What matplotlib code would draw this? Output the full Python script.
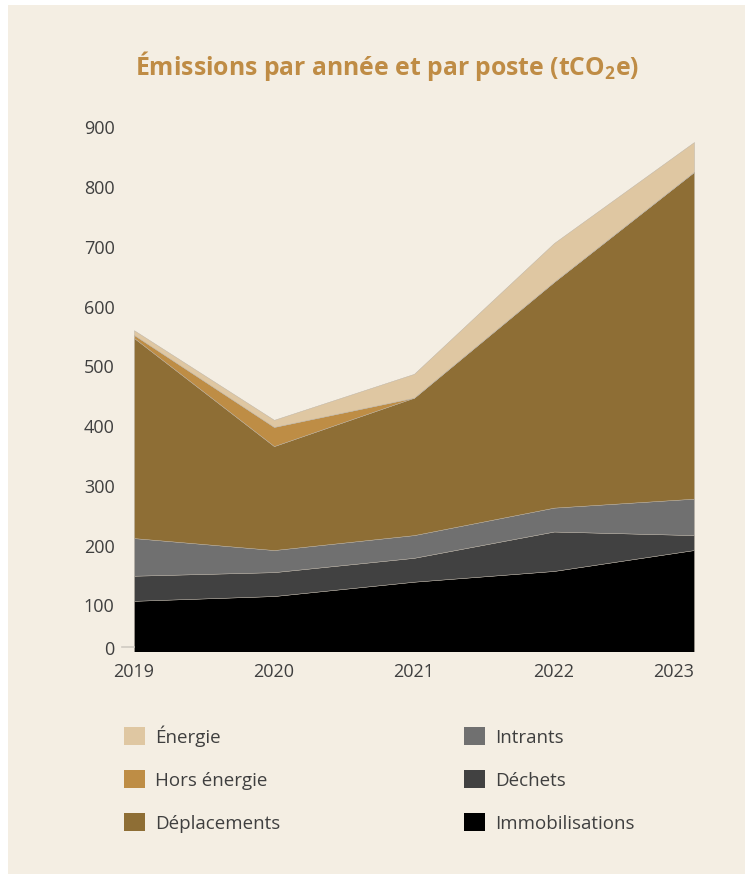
import matplotlib.pyplot as plt
from matplotlib.patches import Patch

# données (tCO2e)
years = [2019, 2020, 2021, 2022, 2023]
immobilisations = [106, 114, 138, 156, 191]
dechets = [42, 40, 40, 66, 25]
intrants = [63, 37, 38, 40, 61]
deplacements = [335, 174, 230, 378, 547]
hors_energie = [5, 32, 0, 0, 0]
energie = [8, 12, 40, 65, 50]

labels = ['Immobilisations', 'Déchets', 'Intrants', 'Déplacements', 'Hors énergie', 'Énergie']
colors = ['#000000', '#414141', '#707070', '#8E6E35', '#BE8D45', '#DFC7A2']
y_ticks = [0, 100, 200, 300, 400, 500, 600, 700, 800, 900]

bg = '#F4EEE3'
txt = '#3F3F3F'
plt.rcParams['font.family'] = ['Open Sans', 'DejaVu Sans']

fig = plt.figure(figsize=(7.45, 8.78), dpi=100)
fig.patch.set_facecolor('white')
# panneau beige
fig.patches.append(plt.Rectangle((8 / 745, 3 / 878), 737 / 745, 869 / 878,
                                 transform=fig.transFigure, facecolor=bg,
                                 edgecolor='none', zorder=-10))

ax = fig.add_axes([134 / 745, 226 / 878, 560 / 745, 524.5 / 878])
ax.set_zorder(2)
ax.patch.set_alpha(0)

ax.stackplot(years, immobilisations, dechets, intrants, deplacements, hors_energie, energie,
             colors=colors, labels=labels, edgecolor='#B8B0A4', linewidth=0.3)

ax.set_xlim(2019, 2023)
ax.set_ylim(22, 900)
for s in ax.spines.values():
    s.set_visible(False)

# le "0" est placé juste au bas du graphique
ax.set_yticks([28] + y_ticks[1:])
ax.set_yticklabels([str(v) for v in y_ticks])
ax.tick_params(axis='y', length=0, pad=14, labelsize=13, labelcolor=txt)
ax.plot([-0.022, 0], [0.007, 0.007], transform=ax.transAxes, color='#CFCAC2',
        lw=1.2, clip_on=False)

ax.set_xticks(years)
ax.set_xticklabels([str(y) for y in years])
ax.tick_params(axis='x', length=0, pad=8, labelsize=13, labelcolor=txt)
xl = ax.get_xticklabels()
xl[-1].set_ha('right')

fig.text(387 / 745, 1 - 66 / 878, r'Émissions par année et par poste (tCO$_\mathregular{2}$e)',
         ha='center', va='center', fontsize=17.8, fontweight='bold', color='#BF8C45')

order = [5, 4, 3, 2, 1, 0]
handles = [Patch(facecolor=colors[i], edgecolor='none') for i in order]
fig.legend(handles, [labels[i] for i in order], loc='upper left',
           bbox_to_anchor=(107 / 745, 1 - 709 / 878), ncol=2, frameon=False,
           fontsize=13.5, labelcolor=txt, handlelength=1.12, handleheight=1.12,
           handletextpad=0.55, labelspacing=1.25, columnspacing=9.8)

fig.savefig('out.png', dpi=100, facecolor='white')
